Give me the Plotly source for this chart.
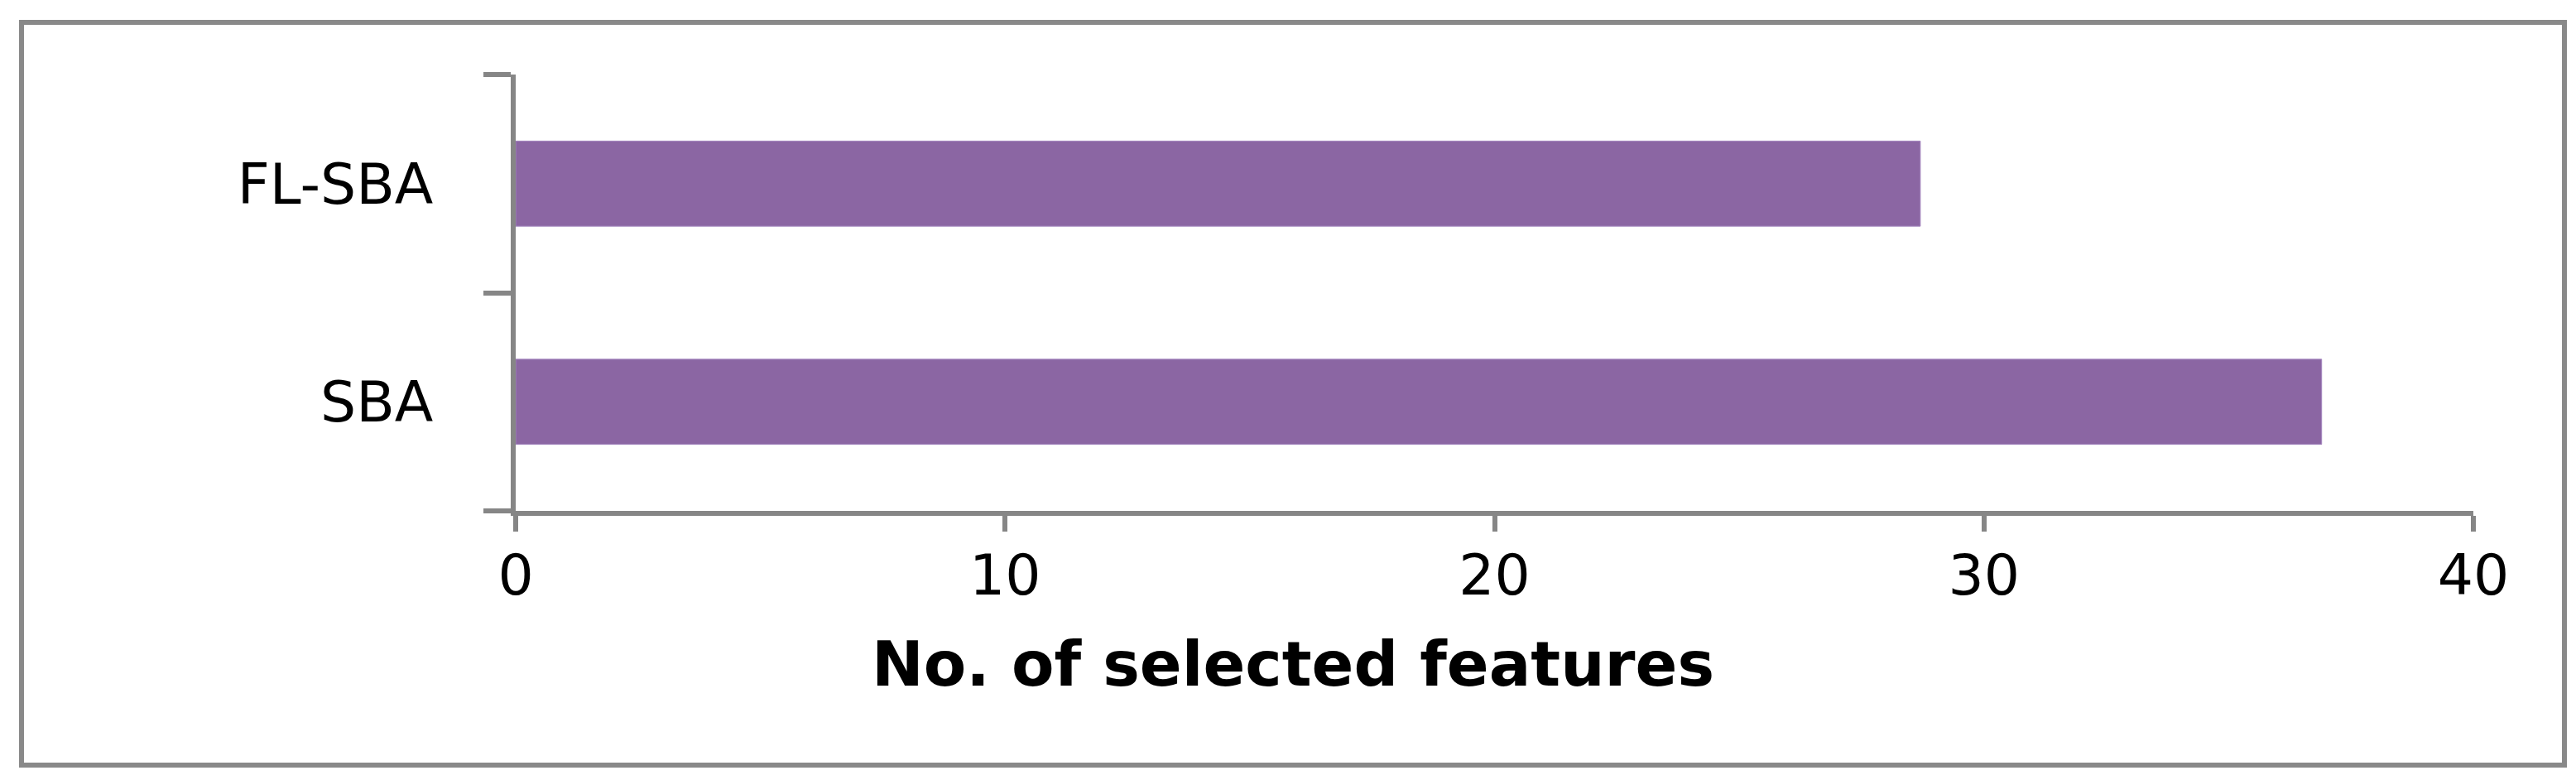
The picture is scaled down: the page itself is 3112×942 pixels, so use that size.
import plotly.graph_objects as go

# data
methods = ["SBA", "FL-SBA"]
selected_features = [36.9, 28.7]
x_ticks = [0, 10, 20, 30, 40]
x_title = "No. of selected features"

W, H = 3112, 942
plot_left, plot_right = 615, 2980
plot_top, plot_bottom = 82, 609
axis_grey = "#868686"
label_font = dict(family="DejaVu Sans", size=68, color="black")

fig = go.Figure()
fig.add_trace(
    go.Bar(
        x=selected_features,
        y=methods,
        orientation="h",
        marker=dict(color="#8B66A3", line=dict(color="#A283BD", width=1)),
        showlegend=False,
    )
)

fig.update_layout(
    width=W,
    height=H,
    margin=dict(l=plot_left, r=W - plot_right, t=plot_top, b=H - plot_bottom, pad=0),
    paper_bgcolor="white",
    plot_bgcolor="white",
    bargap=0.61,
    font=label_font,
)

fig.update_xaxes(
    range=[0, 40],
    tickvals=x_ticks,
    showgrid=False,
    zeroline=False,
    showline=True,
    linewidth=6,
    linecolor=axis_grey,
    ticks="outside",
    ticklen=19,
    tickwidth=6,
    tickcolor=axis_grey,
    ticklabelstandoff=-6,
    tickfont=label_font,
)
fig.update_yaxes(
    type="category",
    categoryorder="array",
    categoryarray=methods,
    showgrid=False,
    showline=True,
    linewidth=6,
    linecolor=axis_grey,
    ticks="outside",
    ticklen=33,
    tickwidth=6,
    tickcolor=axis_grey,
    tickson="boundaries",
    ticklabelstandoff=80,
    tickfont=label_font,
)

pw = plot_right - plot_left
ph = plot_bottom - plot_top


def px_x(v):
    return (v - plot_left) / pw


def px_y(v):
    return (plot_bottom - v) / ph


# x axis title, sits left of centre like in the original
fig.add_annotation(
    text="<b>" + x_title + "</b>",
    xref="paper",
    yref="paper",
    x=px_x(1554),
    y=px_y(794),
    showarrow=False,
    font=dict(family="DejaVu Sans", size=75, color="black"),
    xanchor="center",
    yanchor="middle",
)

# outer chart frame
fig.add_shape(
    type="rect",
    xref="paper",
    yref="paper",
    x0=px_x(18),
    x1=px_x(3090),
    y0=px_y(916),
    y1=px_y(19),
    line=dict(color="#898989", width=6),
    fillcolor="rgba(0,0,0,0)",
    layer="below",
)

fig.write_html("out.html")
